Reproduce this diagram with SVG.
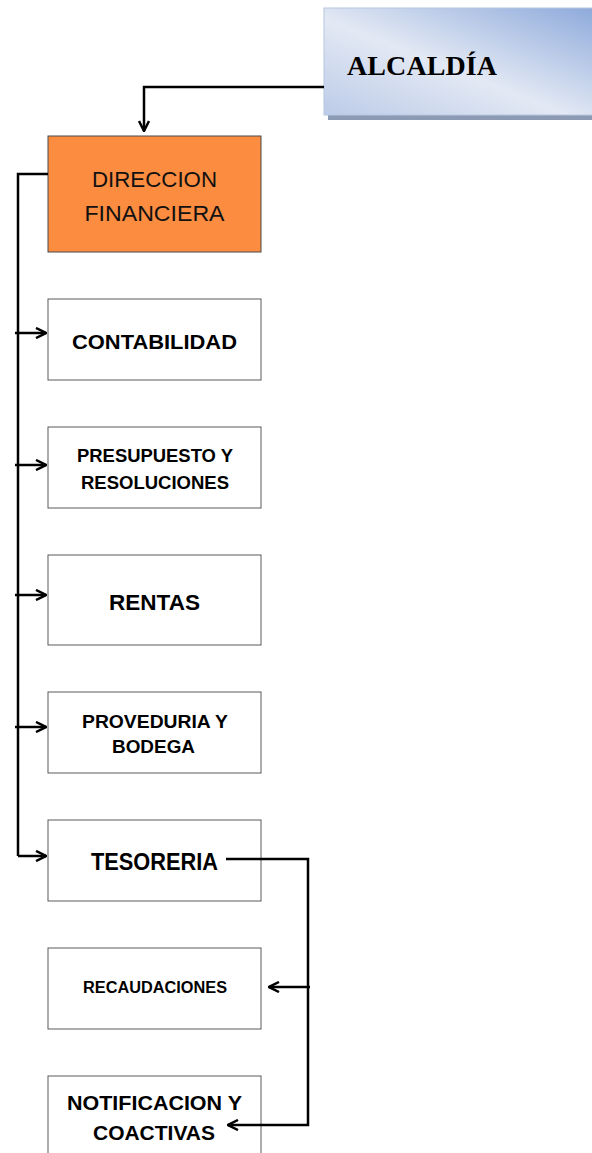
<svg xmlns="http://www.w3.org/2000/svg" width="592" height="1153" viewBox="0 0 592 1153">
<style>
.box{fill:#ffffff;stroke:#5a5a5a;stroke-width:1}
.lbl{font-family:"Liberation Sans",Arial,sans-serif;font-weight:bold;fill:#000;text-anchor:middle}
.reg{font-weight:normal;fill:#111}
.con{fill:none;stroke:#000;stroke-width:2.5;stroke-linejoin:miter}
</style>
<defs>
<linearGradient id="blue" x1="0" y1="1" x2="1" y2="0">
<stop offset="0" stop-color="#bccbe8"/>
<stop offset="0.45" stop-color="#e3e9f4"/>
<stop offset="1" stop-color="#8eaadb"/>
</linearGradient>
<marker id="arr" viewBox="0 0 10 10" refX="9" refY="5" markerWidth="5" markerHeight="5" orient="auto" markerUnits="strokeWidth">
<path d="M1,1 L9,5 L1,9" fill="none" stroke="#000" stroke-width="2"/>
</marker>
</defs>
<g id="alcaldia">
<rect x="328" y="12" width="270" height="108" fill="#8c9ab3"/>
<rect x="324" y="8" width="270" height="107" fill="url(#blue)" stroke="#b8c6df" stroke-width="1"/>
<text x="347" y="75" font-family="'Liberation Serif',serif" font-weight="bold" font-size="28" fill="#000" textLength="150">ALCALDÍA</text>
</g>
<g id="direccion">
<rect x="48" y="136" width="213" height="116" fill="#fb8c40" stroke="#4a4a4a" stroke-width="1"/>
<text class="lbl reg" x="154.5" y="187" font-size="21.5" textLength="125" lengthAdjust="spacingAndGlyphs">DIRECCION</text>
<text class="lbl reg" x="154.5" y="221" font-size="21.5" textLength="140" lengthAdjust="spacingAndGlyphs">FINANCIERA</text>
</g>
<g id="contabilidad">
<rect class="box" x="48" y="299" width="213" height="81"/>
<text class="lbl" x="154.5" y="349" font-size="20.5" textLength="165" lengthAdjust="spacingAndGlyphs">CONTABILIDAD</text>
</g>
<g id="presupuesto">
<rect class="box" x="48" y="427" width="213" height="81"/>
<text class="lbl" x="155" y="462" font-size="19" textLength="156" lengthAdjust="spacingAndGlyphs">PRESUPUESTO Y</text>
<text class="lbl" x="155" y="489" font-size="19" textLength="148" lengthAdjust="spacingAndGlyphs">RESOLUCIONES</text>
</g>
<g id="rentas">
<rect class="box" x="48" y="555" width="213" height="90"/>
<text class="lbl" x="154.5" y="610" font-size="22" textLength="91" lengthAdjust="spacingAndGlyphs">RENTAS</text>
</g>
<g id="proveduria">
<rect class="box" x="48" y="692" width="213" height="81"/>
<text class="lbl" x="155" y="728" font-size="19" textLength="146" lengthAdjust="spacingAndGlyphs">PROVEDURIA Y</text>
<text class="lbl" x="153.5" y="753" font-size="19" textLength="83" lengthAdjust="spacingAndGlyphs">BODEGA</text>
</g>
<g id="tesoreria">
<rect class="box" x="48" y="820" width="213" height="81"/>
<text class="lbl" x="154.5" y="870" font-size="24" textLength="127" lengthAdjust="spacingAndGlyphs">TESORERIA</text>
</g>
<g id="recaudaciones">
<rect class="box" x="48" y="948" width="213" height="81"/>
<text class="lbl" x="155" y="993" font-size="16" textLength="144" lengthAdjust="spacingAndGlyphs">RECAUDACIONES</text>
</g>
<g id="notificacion">
<rect class="box" x="48" y="1076" width="213" height="82"/>
<text class="lbl" x="154.5" y="1110" font-size="19.5" textLength="175" lengthAdjust="spacingAndGlyphs">NOTIFICACION Y</text>
<text class="lbl" x="154" y="1140" font-size="19.5" textLength="122" lengthAdjust="spacingAndGlyphs">COACTIVAS</text>
</g>
<g id="connectors">
<path class="con" d="M324,87 H144 V131" marker-end="url(#arr)"/>
<path class="con" d="M48,174 H18 V856"/>
<path class="con" d="M15,333 H46" marker-end="url(#arr)"/>
<path class="con" d="M15,465 H46" marker-end="url(#arr)"/>
<path class="con" d="M15,595 H46" marker-end="url(#arr)"/>
<path class="con" d="M15,727 H46" marker-end="url(#arr)"/>
<path class="con" d="M18,856 H46" marker-end="url(#arr)"/>
<path class="con" d="M226,859 H308 V1125 H228" marker-end="url(#arr)"/>
<path class="con" d="M310,987 H269" marker-end="url(#arr)"/>
</g>
</svg>
